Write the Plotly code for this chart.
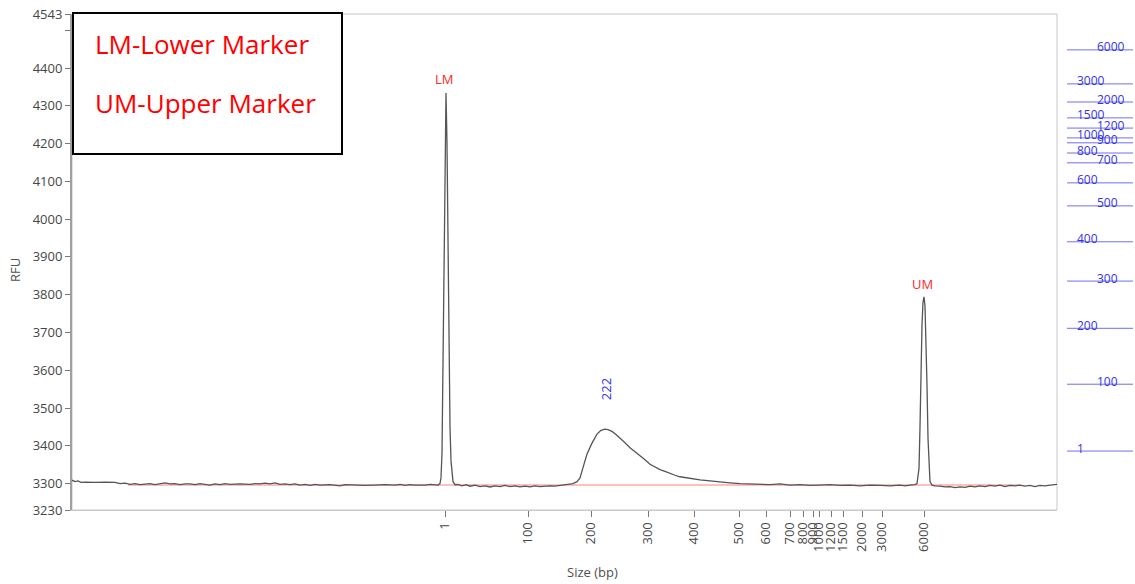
import plotly.graph_objects as go

# ---- electropherogram trace (migration position, RFU) ----
pos = [72, 75, 78, 81, 86, 95, 105, 115, 120, 125, 130, 135, 140, 145, 150, 155, 160, 165, 170, 175,
       180, 185, 190, 195, 200, 205, 210, 215, 220, 225, 230, 240, 250, 255, 260, 265, 270, 275, 280, 285,
       290, 295, 300, 305, 310, 315, 320, 330, 340, 345, 355, 365, 375, 385, 395, 400, 405, 410, 415, 425,
       430, 435, 438, 440, 441, 442, 443, 444, 445, 446, 447, 448, 449, 450, 451, 452, 453, 455, 458, 462,
       466, 470, 475, 480, 485, 490, 495, 500, 505, 510, 515, 520, 525, 530, 535, 540, 545, 550, 555, 560,
       565, 570, 573, 577, 580, 583, 587, 592, 597, 601, 605, 608, 612, 616, 620, 625, 630, 635, 640, 645,
       650, 655, 660, 665, 670, 675, 680, 690, 700, 710, 720, 730, 740, 750, 760, 770, 780, 790, 800, 810,
       820, 830, 840, 850, 860, 870, 880, 890, 900, 905, 910, 915, 917, 919, 920, 921, 922, 923, 924, 925,
       926, 927, 928, 929, 930, 932, 935, 940, 945, 950, 955, 960, 965, 970, 975, 980, 985, 990, 995, 1000,
       1005, 1010, 1015, 1020, 1025, 1030, 1035, 1040, 1045, 1050, 1057]
rfu = [3309, 3305, 3307, 3303, 3304, 3303, 3304, 3303, 3300, 3301, 3298, 3300, 3297, 3299, 3300, 3297, 3300, 3302, 3299, 3300,
       3297, 3299, 3299, 3297, 3300, 3298, 3296, 3299, 3297, 3300, 3298, 3299, 3298, 3300, 3299, 3301, 3299, 3302, 3298, 3299,
       3297, 3299, 3296, 3298, 3295, 3298, 3296, 3297, 3294, 3297, 3296, 3295, 3296, 3297, 3296, 3298, 3295, 3297, 3296, 3296,
       3298, 3296, 3296, 3300, 3315, 3380, 3600, 3900, 4200, 4334, 4200, 3900, 3620, 3450, 3360, 3320, 3305, 3297, 3298, 3294,
       3297, 3293, 3296, 3292, 3294, 3291, 3294, 3292, 3295, 3292, 3294, 3291, 3293, 3291, 3294, 3292, 3293, 3294, 3293, 3295,
       3296, 3298, 3300, 3305, 3315, 3342, 3378, 3407, 3431, 3441, 3444, 3443, 3438, 3430, 3421, 3408, 3395, 3385, 3374, 3363,
       3351, 3343, 3337, 3332, 3326, 3322, 3318, 3313, 3310, 3307, 3304, 3302, 3300, 3299, 3298, 3297, 3299, 3296, 3297, 3295,
       3296, 3297, 3295, 3296, 3294, 3296, 3295, 3294, 3296, 3294, 3296, 3297, 3300, 3340, 3450, 3600, 3720, 3780, 3794, 3770,
       3690, 3560, 3420, 3340, 3305, 3296, 3294, 3293, 3291, 3292, 3289, 3291, 3290, 3293, 3291, 3294, 3292, 3295, 3293, 3296,
       3292, 3295, 3294, 3296, 3293, 3295, 3292, 3295, 3294, 3296, 3298]

# baseline (red)
baseline_pos = [128, 1020]
baseline_rfu = [3296, 3296]

# x-axis size ticks (bp) and their migration positions
size_labels = ["1", "100", "200", "300", "400", "500", "600", "700", "800", "900", "1000", "1200", "1500", "2000", "3000", "6000"]
size_pos = [445, 528, 591, 648, 694, 739, 766, 790, 803, 813, 819, 831, 843, 862, 882, 924]

# y-axis ticks
rfu_ticks = [3230, 3300, 3400, 3500, 3600, 3700, 3800, 3900, 4000, 4100, 4200, 4300, 4400, 4500, 4543]
rfu_labels = ["3230", "3300", "3400", "3500", "3600", "3700", "3800", "3900", "4000", "4100", "4200", "4300", "4400", "", "4543"]

# ladder on the right (bp label, level on RFU scale, label side)
ladder_bp = ["6000", "3000", "2000", "1500", "1200", "1000", "900", "800", "700", "600", "500", "400", "300", "200", "100", "1"]
ladder_level = [4448, 4358, 4310, 4268, 4241, 4215, 4202, 4175, 4149, 4096, 4035, 3940, 3836, 3711, 3563, 3386]
ladder_side = ["R", "L", "R", "L", "R", "L", "R", "L", "R", "L", "R", "L", "R", "L", "R", "L"]

# peak labels
peak_text = ["LM", "222", "UM"]
peak_pos = [444, 606, 922]
peak_rfu = [4334, 3444, 3794]

W, H = 1135, 584
L, R, T, B = 72, 2, 14, 74
pw = W - L - R
ph = H - T - B

fig = go.Figure()
fig.add_trace(go.Scatter(x=baseline_pos, y=baseline_rfu, mode="lines",
                         line=dict(color="rgb(255,170,170)", width=1.5), hoverinfo="skip", showlegend=False))
fig.add_trace(go.Scatter(x=pos, y=rfu, mode="lines",
                         line=dict(color="rgb(85,85,85)", width=1.3), showlegend=False))

# ladder lines on secondary x axis
for bp, lv in zip(ladder_bp, ladder_level):
    fig.add_trace(go.Scatter(x=[0, 1], y=[lv, lv], xaxis="x2", yaxis="y", mode="lines",
                             line=dict(color="rgb(110,110,245)", width=1), showlegend=False, hoverinfo="skip"))

annotations = []
for bp, lv, side in zip(ladder_bp, ladder_level, ladder_side):
    annotations.append(dict(x=0.12 if side == "L" else 0.42, y=lv, xref="x2", yref="y",
                            text=bp, showarrow=False, xanchor="left", yanchor="middle", yshift=3,
                            font=dict(family="Open Sans", size=12, color="rgb(50,50,230)")))

peak_colors = ["rgb(255,40,40)", "rgb(50,50,240)", "rgb(255,40,40)"]
peak_shift = [14, 40, 13]
for t, px, py, c, s in zip(peak_text, peak_pos, peak_rfu, peak_colors, peak_shift):
    annotations.append(dict(x=px, y=py, xref="x", yref="y", text=t, showarrow=False,
                            yshift=s, textangle=-90 if t == "222" else 0,
                            font=dict(family="Open Sans", size=13, color=c)))

# legend box text
annotations.append(dict(x=(93 - L) / pw, y=1 - (44 - T) / ph, xref="paper", yref="paper",
                        text="LM-Lower Marker", showarrow=False, xanchor="left", yanchor="middle",
                        font=dict(family="Open Sans", size=26, color="rgb(255,0,0)")))
annotations.append(dict(x=(93 - L) / pw, y=1 - (103 - T) / ph, xref="paper", yref="paper",
                        text="UM-Upper Marker", showarrow=False, xanchor="left", yanchor="middle",
                        font=dict(family="Open Sans", size=26, color="rgb(255,0,0)")))
# axis titles
annotations.append(dict(x=(592 - L) / pw, y=-(572 - (H - B)) / ph, xref="paper", yref="paper",
                        text="Size (bp)", showarrow=False, xanchor="center", yanchor="middle",
                        font=dict(family="Open Sans", size=13, color="rgb(80,80,80)")))
annotations.append(dict(x=-(L - 15) / pw, y=1 - (270 - T) / ph, xref="paper", yref="paper",
                        text="RFU", showarrow=False, textangle=-90, xanchor="center", yanchor="middle",
                        font=dict(family="Open Sans", size=13, color="rgb(80,80,80)")))

shapes = [
    dict(type="rect", xref="x domain", yref="y domain", x0=0, x1=1, y0=0, y1=1,
         line=dict(color="rgb(200,200,200)", width=1), layer="below"),
    dict(type="rect", xref="paper", yref="paper",
         x0=(73 - L) / pw, x1=(342 - L) / pw,
         y0=1 - (154 - T) / ph, y1=1 - (13 - T) / ph,
         line=dict(color="black", width=2), fillcolor="white", layer="above"),
]

fig.update_layout(
    width=W, height=H,
    margin=dict(l=L, r=R, t=T, b=B),
    paper_bgcolor="white", plot_bgcolor="white",
    xaxis=dict(domain=[0, (1057 - L) / pw], range=[72, 1057], tickvals=size_pos, ticktext=size_labels,
               tickangle=-90, ticks="outside", ticklen=6, tickcolor="rgb(120,120,120)",
               showgrid=False, zeroline=False, showline=True, linecolor="rgb(200,200,200)",
               tickfont=dict(family="Open Sans", size=13, color="rgb(70,70,70)")),
    xaxis2=dict(domain=[(1067 - L) / pw, 1.0], range=[0, 1], anchor="y", visible=False, showgrid=False),
    yaxis=dict(range=[3230, 4543], tickvals=rfu_ticks, ticktext=rfu_labels,
               ticks="outside", ticklen=5, tickcolor="rgb(120,120,120)",
               showgrid=False, zeroline=False, showline=True, linecolor="rgb(160,160,160)", linewidth=2,
               tickfont=dict(family="Open Sans", size=13, color="rgb(70,70,70)")),
    annotations=annotations,
    shapes=shapes,
    showlegend=False,
)

fig.write_html("out.html", config={"displayModeBar": False},
               post_script="document.body.style.margin='0px';")
